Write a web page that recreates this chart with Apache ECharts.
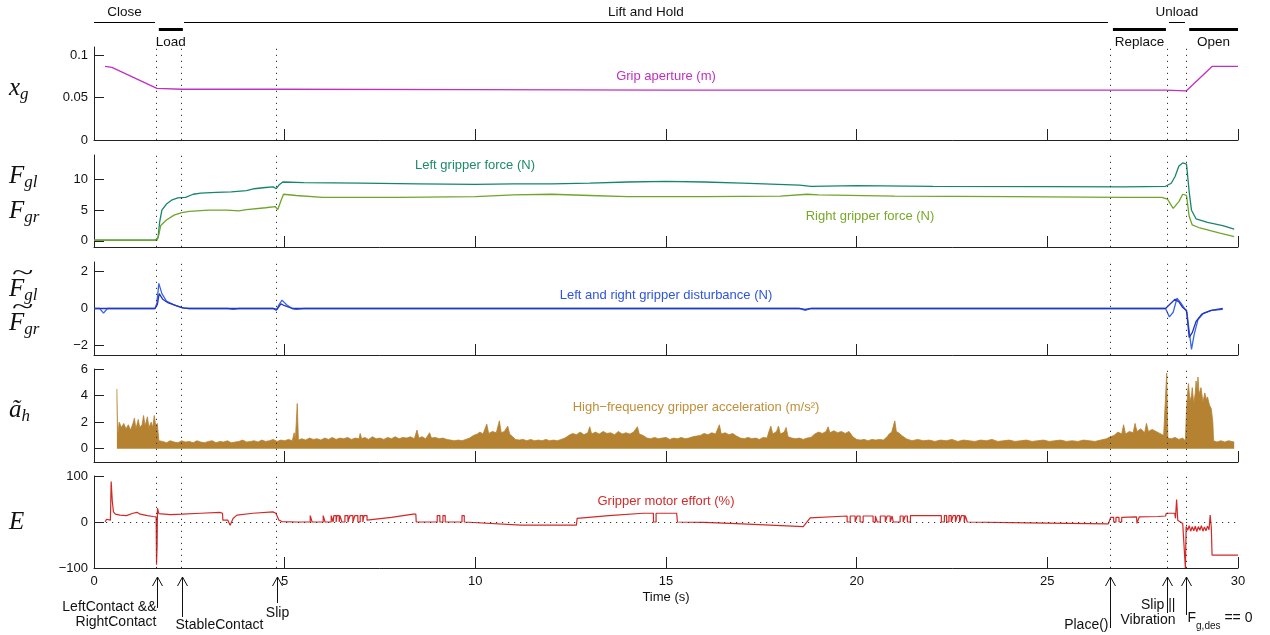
<!DOCTYPE html>
<html>
<head>
<meta charset="utf-8">
<script src="https://cdn.jsdelivr.net/npm/echarts@6.0.0/dist/echarts.min.js"></script>
<style>
  html, body { margin: 0; padding: 0; background: #fff; }
  #chart { width: 1270px; height: 635px; }
</style>
</head>
<body>
<div id="chart"></div>
<script>
// time axis (s)
const xTicks = [0, 5, 10, 15, 20, 25, 30];

// controller phases: name, start, end, row (0 = upper line, 1 = lower bar)
const phaseNames = ["Close", "Load", "Lift and Hold", "Replace", "Unload", "Open"];
const phaseStart = [0, 1.7, 2.36, 26.72, 28.19, 28.72];
const phaseEnd = [1.6, 2.33, 26.59, 28.11, 28.61, 30];
const phaseRow = [0, 1, 0, 1, 0, 1];

// events (s)
const eventTimes = [1.64, 2.3, 4.79, 26.64, 28.15, 28.64];
const eventLabels = [
    "LeftContact &&\nRightContact",
    "StableContact",
    "Slip",
    "Place()",
    "Slip ||\nVibration",
    "{m|F}{s|g,des}{m| == 0}"
];

// y axis ranges per panel
const yMin = [0, -1, -2.5, -1, -100];
const yMax = [0.11, 14, 2.5, 6, 100];
const yTicks = [[0, 0.05, 0.1], [0, 5, 10], [-2, 0, 2], [0, 2, 4, 6], [-100, 0, 100]];

// grip aperture (m)
const aperture = [[0.29, 0.087], [0.47, 0.086], [1.65, 0.061], [2.3, 0.060], [4.8, 0.060], [10, 0.0595],
    [15, 0.059], [20, 0.059], [26.6, 0.059], [28.1, 0.059], [28.64, 0.058], [29.32, 0.087], [30, 0.087]];

// gripper forces (N)
const forceLeft = [[0, 0.1], [1.0, 0.1], [1.6, 0.1], [1.68, 0.5], [1.72, 3.0], [1.78, 5.0], [1.9, 6.0], [2.05, 6.7],
    [2.2, 7.0], [2.4, 7.1], [2.6, 7.6], [2.8, 7.8], [3.2, 7.9], [3.6, 8.0], [4.0, 8.2], [4.2, 8.5], [4.5, 8.7],
    [4.7, 8.8], [4.78, 8.5], [4.85, 9.1], [4.95, 9.6], [5.5, 9.5], [7, 9.4], [8.5, 9.3], [10, 9.2], [11, 9.3],
    [12, 9.3], [13, 9.4], [14, 9.6], [15, 9.7], [16, 9.6], [17, 9.4], [18.5, 9.1], [18.8, 8.9], [20, 9.0],
    [22, 8.9], [25, 8.85], [27, 8.8], [28.1, 8.9], [28.25, 9.4], [28.35, 10.5], [28.45, 12.2], [28.55, 12.7],
    [28.65, 12.5], [28.72, 8.0], [28.78, 5.0], [28.9, 3.6], [29.2, 3.0], [29.6, 2.5], [29.9, 1.9]];
const forceRight = [[0, 0.1], [1.65, 0.1], [1.7, 1.0], [1.75, 2.5], [1.9, 3.4], [2.1, 4.2], [2.3, 4.6], [2.5, 4.8],
    [3.0, 5.0], [3.5, 5.0], [3.8, 4.9], [4.0, 5.1], [4.5, 5.4], [4.75, 5.6], [4.82, 5.1], [4.9, 6.5], [4.97, 7.6],
    [5.3, 7.4], [6, 7.1], [8, 7.1], [10, 7.2], [11, 7.5], [12, 7.6], [13, 7.4], [14, 7.2], [16, 7.2], [18, 7.3],
    [18.7, 7.6], [19, 7.5], [21, 7.3], [24, 7.2], [27, 7.1], [28.0, 7.1], [28.15, 6.8], [28.3, 5.3], [28.45, 6.4],
    [28.55, 7.6], [28.65, 7.4], [28.72, 4.0], [28.8, 2.6], [29, 2.1], [29.5, 1.3], [29.9, 0.7]];

// force disturbances (N)
const distLeft = [[0, 0], [0.15, 0], [0.25, -0.25], [0.35, 0], [1.6, 0], [1.65, 0.3], [1.7, 1.35], [1.78, 0.8],
    [1.9, 0.4], [2.1, 0.2], [2.3, 0.05], [2.5, 0], [3.5, 0], [3.65, -0.05], [3.8, 0], [4.7, 0], [4.78, -0.1],
    [4.85, 0.2], [4.93, 0.45], [5.05, 0.2], [5.2, 0], [5.3, -0.05], [5.5, 0], [18.5, 0], [18.65, -0.1], [18.8, 0],
    [28.1, 0], [28.15, -0.05], [28.2, -0.45], [28.3, -0.2], [28.4, 0.55], [28.5, 0.3], [28.6, 0.0], [28.66, -0.2],
    [28.72, -1.2], [28.78, -2.2], [28.85, -1.4], [28.95, -0.6], [29.1, -0.25], [29.3, -0.1], [29.6, -0.05]];
const distRight = [[0, 0], [0.2, 0], [0.25, -0.1], [0.35, 0], [1.6, 0], [1.66, 0.2], [1.71, 0.8], [1.8, 0.5],
    [1.95, 0.3], [2.15, 0.15], [2.35, 0.02], [2.5, 0], [4.7, 0], [4.8, -0.05], [4.9, 0.25], [5.0, 0.15], [5.2, 0],
    [18.5, 0], [18.65, -0.05], [18.8, 0], [28.1, 0], [28.2, 0.2], [28.35, 0.5], [28.45, 0.35], [28.55, 0.05],
    [28.65, -0.1], [28.72, -1.55], [28.8, -1.3], [28.9, -0.7], [29.05, -0.3], [29.3, -0.1], [29.6, 0]];

// high-frequency acceleration, upper envelope (m/s^2)
const accel = [[0.6, 4.5], [0.62, 1.0], [0.66, 2.0], [0.72, 1.6], [0.78, 1.9], [0.84, 1.5], [0.9, 1.8], [0.96, 1.4],
    [1.02, 1.9], [1.06, 2.3], [1.1, 1.5], [1.16, 2.2], [1.2, 1.6], [1.26, 1.8], [1.3, 2.5], [1.34, 1.7], [1.4, 2.4],
    [1.44, 1.6], [1.5, 2.0], [1.54, 1.6], [1.58, 2.5], [1.62, 1.7], [1.66, 1.9],
    [1.7, 0.6], [1.75, 0.45], [1.8, 0.55], [1.9, 0.45], [2.0, 0.6], [2.1, 0.5], [2.2, 0.45], [2.3, 0.6], [2.35, 0.7],
    [2.4, 0.5], [2.5, 0.55], [2.6, 0.45], [2.7, 0.6], [2.8, 0.5], [2.9, 0.45], [3.0, 0.55], [3.1, 0.6], [3.2, 0.45],
    [3.3, 0.55], [3.4, 0.5], [3.5, 0.6], [3.6, 0.45], [3.7, 0.5], [3.8, 0.55], [3.9, 0.65], [4.0, 0.5], [4.1, 0.55],
    [4.2, 0.6], [4.3, 0.5], [4.4, 0.65], [4.5, 0.55], [4.6, 0.6], [4.7, 0.7], [4.8, 0.55], [4.9, 0.65], [5.0, 0.6],
    [5.1, 0.7], [5.2, 0.6], [5.25, 1.2], [5.28, 0.65], [5.33, 3.4], [5.36, 0.65],
    [5.45, 0.75], [5.55, 0.65], [5.65, 0.8], [5.75, 0.7], [5.85, 0.75], [5.95, 0.65], [6.05, 0.8], [6.15, 0.7],
    [6.25, 0.85], [6.35, 0.7], [6.45, 0.8], [6.55, 0.75], [6.65, 0.85], [6.75, 0.7], [6.85, 0.8], [6.95, 0.75],
    [6.98, 1.15], [7.02, 0.75], [7.1, 0.85], [7.2, 0.7], [7.3, 0.9], [7.4, 0.75], [7.5, 0.8], [7.6, 0.7],
    [7.7, 0.85], [7.8, 0.75], [7.9, 0.9], [8.0, 0.75], [8.1, 0.85], [8.2, 0.8], [8.3, 0.9], [8.4, 0.75],
    [8.47, 1.4], [8.52, 0.8], [8.6, 0.9], [8.7, 0.75], [8.8, 1.2], [8.85, 0.8], [8.95, 0.85], [9.05, 0.75],
    [9.15, 0.8], [9.25, 0.7], [9.35, 0.65], [9.45, 0.6], [9.55, 0.65], [9.65, 0.6], [9.75, 0.7], [9.85, 0.8],
    [9.95, 1.0], [10.05, 1.1], [10.12, 1.25], [10.2, 1.1], [10.3, 1.85], [10.35, 1.15], [10.45, 1.3], [10.55, 1.2],
    [10.63, 2.1], [10.68, 1.2], [10.76, 1.3], [10.85, 1.7], [10.9, 1.1], [10.98, 0.9],
    [11.05, 0.7], [11.15, 0.65], [11.25, 0.7], [11.35, 0.6], [11.45, 0.7], [11.55, 0.6], [11.65, 0.65], [11.75, 0.6],
    [11.85, 0.7], [11.95, 0.6], [12.05, 0.65], [12.15, 0.6], [12.25, 0.7], [12.35, 0.8],
    [12.45, 1.0], [12.55, 1.15], [12.65, 1.05], [12.75, 1.25], [12.85, 1.05], [12.95, 1.2], [13.0, 1.65],
    [13.05, 1.1], [13.15, 1.25], [13.25, 1.1], [13.35, 1.3], [13.45, 1.15], [13.55, 1.2], [13.65, 1.05],
    [13.75, 1.3], [13.85, 1.1], [13.95, 1.2], [14.05, 1.1], [14.15, 1.25], [14.25, 1.65], [14.3, 1.1], [14.4, 1.0],
    [14.5, 0.8], [14.6, 0.75], [14.7, 0.85], [14.8, 0.75], [14.9, 0.8], [15.0, 0.85], [15.1, 0.7], [15.2, 0.8],
    [15.3, 0.75], [15.4, 0.85], [15.5, 0.75], [15.6, 0.8], [15.7, 0.9], [15.8, 0.95], [15.9, 1.0],
    [16.0, 1.15], [16.1, 1.05], [16.2, 1.2], [16.3, 1.1], [16.4, 1.8], [16.45, 1.1], [16.55, 1.2], [16.65, 1.05],
    [16.75, 1.15], [16.85, 0.95], [16.95, 0.8], [17.05, 0.75], [17.15, 0.85], [17.25, 0.75], [17.35, 0.8],
    [17.45, 0.7], [17.55, 0.85], [17.65, 0.8], [17.7, 1.3], [17.75, 1.7], [17.8, 1.1], [17.9, 1.3], [17.95, 1.7],
    [18.0, 1.1], [18.1, 1.25], [18.15, 1.6], [18.2, 0.9], [18.3, 0.8], [18.4, 0.75], [18.5, 0.8], [18.6, 0.7],
    [18.7, 0.8], [18.8, 0.85], [18.9, 1.1], [19.0, 1.25], [19.1, 1.15], [19.2, 1.3], [19.25, 1.65], [19.3, 1.2],
    [19.4, 1.35], [19.5, 1.2], [19.6, 1.3], [19.7, 1.15], [19.8, 1.3], [19.9, 0.9], [20.0, 0.7], [20.1, 0.65],
    [20.2, 0.7], [20.3, 0.6], [20.4, 0.7], [20.5, 0.65], [20.6, 0.7], [20.7, 0.65], [20.8, 0.9], [20.85, 1.1],
    [20.92, 1.25], [21.0, 2.1], [21.04, 1.3], [21.1, 1.2], [21.18, 1.0],
    [21.3, 0.75], [21.45, 0.6], [21.6, 0.7], [21.75, 0.6], [21.9, 0.65], [22.05, 0.55], [22.2, 0.65], [22.35, 0.6],
    [22.5, 0.7], [22.65, 0.55], [22.8, 0.65], [22.95, 0.6], [23.1, 0.55], [23.25, 0.65], [23.4, 0.6], [23.55, 0.7],
    [23.7, 0.55], [23.85, 0.6], [24.0, 0.65], [24.15, 0.55], [24.3, 0.6], [24.45, 0.65], [24.6, 0.55], [24.75, 0.6],
    [24.9, 0.65], [25.05, 0.55], [25.2, 0.6], [25.35, 0.65], [25.5, 0.55], [25.65, 0.6], [25.8, 0.55], [25.95, 0.65],
    [26.1, 0.6], [26.25, 0.55], [26.4, 0.65], [26.55, 0.75],
    [26.65, 0.9], [26.75, 1.0], [26.85, 1.25], [26.95, 1.1], [27.0, 1.8], [27.05, 1.1], [27.15, 1.3], [27.25, 1.2],
    [27.3, 1.9], [27.35, 1.3], [27.45, 1.5], [27.55, 1.2], [27.6, 1.9], [27.65, 1.3], [27.75, 1.45], [27.85, 1.3],
    [27.95, 1.15], [28.05, 1.0], [28.1, 1.1], [28.13, 5.7], [28.16, 0.8], [28.25, 0.75], [28.35, 0.85],
    [28.45, 0.7], [28.55, 0.8], [28.62, 0.6],
    [28.65, 3.0], [28.68, 4.2], [28.7, 4.9], [28.74, 3.6], [28.78, 4.0], [28.8, 4.6], [28.84, 3.4], [28.88, 4.2],
    [28.9, 5.1], [28.93, 4.4], [28.95, 5.4], [28.98, 4.1], [29.0, 4.0], [29.03, 4.6], [29.05, 4.5], [29.08, 3.5],
    [29.1, 3.6], [29.13, 4.2], [29.17, 3.7], [29.2, 3.9], [29.25, 3.3], [29.3, 3.0], [29.34, 2.0], [29.36, 0.6],
    [29.45, 0.5], [29.55, 0.6], [29.65, 0.5], [29.75, 0.6], [29.9, 0.5]];

// gripper motor effort (%)
const effort = [[0.29, 0], [0.33, 6], [0.37, 2], [0.43, 4], [0.45, 88], [0.48, 45], [0.51, 22], [0.56, 17],
    [0.68, 15], [0.85, 14], [1.02, 19], [1.13, 21], [1.21, 17], [1.4, 14], [1.55, 12], [1.63, 11], [1.64, -93],
    [1.655, -50], [1.665, 30], [1.7, 18], [1.73, 15], [2.0, 16], [2.31, 17], [2.8, 19], [3.3, 21], [3.37, 19],
    [3.38, 4], [3.51, 4], [3.57, -7], [3.65, 8], [3.75, 15], [4.17, 19], [4.69, 22], [4.77, 19], [4.85, 4],
    [4.93, 1], [5.3, 0],
    [5.67, 0], [5.67, 14], [5.72, 14], [5.72, 0], [6.01, 0], [6.01, 14], [6.06, 14], [6.06, 0],
    [6.22, 0], [6.22, 14], [6.27, 14], [6.27, 0], [6.29, 0], [6.29, 14], [6.35, 14], [6.35, 0],
    [6.37, 0], [6.37, 14], [6.43, 14], [6.43, 0], [6.45, 0], [6.45, 14], [6.5, 14], [6.5, 0],
    [6.58, 0], [6.58, 14], [6.66, 14], [6.66, 0], [6.71, 0], [6.71, 14], [6.79, 14], [6.79, 0],
    [6.84, 0], [6.84, 14], [6.92, 14], [6.92, 0], [6.98, 0], [6.98, 14], [7.05, 14], [7.05, 0],
    [7.08, 0], [7.08, 14], [7.16, 14], [7.16, 4], [7.8, 10], [8.37, 17], [8.44, 17], [8.45, 0],
    [9.0, 0], [9.0, 14], [9.07, 14], [9.07, 0], [9.15, 0], [9.15, 14], [9.21, 14], [9.21, 0],
    [9.65, 0], [9.65, 14], [9.71, 14], [9.71, 0], [11.2, -7], [12.65, -7], [12.67, 8], [13.5, 14], [14.4, 19],
    [14.67, 19], [14.67, 0], [14.74, 0], [14.74, 19], [15.28, 19], [15.3, 0], [16, -1], [17, -4], [18.6, -10],
    [18.65, -10], [18.78, 9], [19.75, 13],
    [19.75, 0], [19.83, 0], [19.83, 13], [19.96, 13], [19.96, 0], [20.01, 0], [20.01, 13], [20.09, 13],
    [20.09, 0], [20.17, 0], [20.17, 13], [20.43, 13], [20.43, 0], [20.49, 0], [20.49, 13], [20.54, 13],
    [20.54, 0], [20.62, 0], [20.62, 13], [20.75, 13], [20.75, 0], [20.8, 0], [20.8, 13], [20.88, 13],
    [20.88, 0], [20.93, 0], [20.93, 13], [20.96, 13], [20.96, 0], [21.14, 0], [21.14, 13], [21.22, 13],
    [21.22, 0], [21.27, 0], [21.27, 13], [21.33, 13], [21.33, 0], [21.41, 0], [21.41, 14], [22.22, 14],
    [22.22, 0], [22.3, 0], [22.3, 14], [22.36, 14], [22.36, 0], [22.42, 0], [22.42, 14], [22.48, 14],
    [22.48, 0], [22.53, 0], [22.53, 14], [22.59, 14], [22.59, 0], [22.64, 0], [22.64, 14], [22.7, 14],
    [22.7, 0], [22.75, 0], [22.75, 14], [22.82, 14], [22.82, 0], [22.85, 0], [22.85, 14], [22.9, 14],
    [22.9, 0], [24.5, -2], [26.6, -4],
    [26.64, -3], [26.66, 10], [26.74, 10], [26.74, 0], [26.8, 0], [26.8, 10], [26.88, 10], [26.88, 0],
    [26.95, 0], [26.95, 10], [27.34, 11], [27.35, -3], [27.4, -3], [27.41, 11], [27.9, 12], [28.1, 13],
    [28.12, 19], [28.34, 19], [28.36, 8], [28.39, 49], [28.42, 4], [28.55, -3], [28.6, -7], [28.62, -100],
    [28.64, -10], [28.68, -18], [28.72, -8], [28.76, -20], [28.8, -10], [28.84, -19], [28.88, -9], [28.92, -21],
    [28.96, -10], [29.0, -18], [29.04, -8], [29.08, -20], [29.12, -11], [29.16, -19], [29.2, -9], [29.24, -17],
    [29.27, 15], [29.3, -12], [29.32, -72], [30, -72]];

// layout
const panelTop = [47, 155, 262, 369, 476];
const panelHeight = [93, 92, 93, 93, 92];
const font = "Liberation Sans";
const mathFont = "Liberation Serif";

// arrow stem length, text anchor and offsets for each event note
const eventLayout = [
    { len: 31, anchor: "right", dx: -1, dy: 38 },
    { len: 40, anchor: "left", dx: -7, dy: 48 },
    { len: 26, anchor: "center", dx: 0, dy: 36 },
    { len: 51, anchor: "right", dx: -2, dy: 48 },
    { len: 36, anchor: "right", dx: 8, dy: 36 },
    { len: 38, anchor: "left", dx: 1, dy: 41 }
];

let chart = echarts.init(document.getElementById("chart"));

function eventMarks(extra) {
    let data = eventTimes.map(t => ({ xAxis: t }));
    return {
        symbol: "none",
        silent: true,
        label: { show: false },
        lineStyle: { color: "#333", type: [1.2, 4.8], width: 1 },
        data: data.concat(extra || [])
    };
}

function mathLabel(x, y, main, sub) {
    return {
        type: "text", x: x, y: y, silent: true,
        style: {
            text: "{m|" + main + "}{s|" + sub + "}",
            verticalAlign: "middle",
            rich: {
                m: { fontFamily: mathFont, fontStyle: "italic", fontSize: 25, lineHeight: 30, fill: "#111" },
                s: { fontFamily: mathFont, fontStyle: "italic", fontSize: 17, lineHeight: 12, verticalAlign: "bottom", fill: "#111" }
            }
        }
    };
}

function wideTilde(x, y) {
    return {
        type: "text", x: x, y: y, scaleX: 1.8, silent: true,
        style: { text: "~", font: "22px '" + mathFont + "'", fill: "#111", verticalAlign: "middle" }
    };
}

function note(text, x, y, color) {
    return {
        type: "text", x: x, y: y, silent: true,
        style: { text: text, fill: color, font: "13px '" + font + "'", align: "center", verticalAlign: "middle" }
    };
}

let option = {
    animation: false,
    backgroundColor: "#fff",
    grid: panelTop.map((t, i) => ({ left: 94, right: 32, top: t, height: panelHeight[i] })),
    xAxis: panelTop.map((t, i) => ({
        gridIndex: i,
        type: "value",
        min: 0,
        max: 30,
        axisLine: { show: true, onZero: false, lineStyle: { color: "#222", width: 1 } },
        axisTick: { show: true, inside: true, length: 11, customValues: xTicks, lineStyle: { color: "#222" } },
        axisLabel: { show: i === 4, customValues: xTicks, margin: 7, fontSize: 13, color: "#111", fontFamily: font },
        splitLine: { show: false },
        name: i === 4 ? "Time (s)" : "",
        nameLocation: "middle",
        nameGap: 23,
        nameTextStyle: { fontSize: 13, color: "#111", fontFamily: font }
    })),
    yAxis: panelTop.map((t, i) => ({
        gridIndex: i,
        type: "value",
        min: yMin[i],
        max: yMax[i],
        axisLine: { show: true, onZero: false, lineStyle: { color: "#222", width: 1 } },
        axisTick: { show: true, inside: true, length: 10, customValues: yTicks[i], lineStyle: { color: "#222" } },
        axisLabel: {
            customValues: yTicks[i], margin: 6, fontSize: 13, color: "#111", fontFamily: font,
            formatter: v => String(v).replace("-", "\u2212")
        },
        splitLine: { show: false }
    })),
    graphic: [
        mathLabel(9, 88, "x", "g"),
        mathLabel(9, 176, "F", "gl"),
        mathLabel(9, 211, "F", "gr"),
        wideTilde(12, 273),
        mathLabel(9, 289, "F", "gl"),
        wideTilde(12, 307),
        mathLabel(9, 323, "F", "gr"),
        mathLabel(9, 410, "\u00e3", "h"),
        mathLabel(9, 522, "E", ""),
        note("Grip aperture (m)", 666, 76, "#c030c0"),
        note("Left gripper force (N)", 475, 165, "#1e8a6a"),
        note("Right gripper force (N)", 870, 216, "#78a82a"),
        note("Left and right gripper disturbance (N)", 666, 295, "#2e55dc"),
        note("High\u2212frequency gripper acceleration (m/s\u00b2)", 696, 407, "#c08f3a"),
        note("Gripper motor effort (%)", 666, 501, "#d42a2a")
    ],
    series: [
        {
            name: "Grip aperture", type: "line", xAxisIndex: 0, yAxisIndex: 0,
            data: aperture, showSymbol: false, color: "#c030c0",
            lineStyle: { width: 1.3 },
            markLine: eventMarks()
        },
        {
            name: "Left force", type: "line", xAxisIndex: 1, yAxisIndex: 1,
            data: forceLeft, showSymbol: false, color: "#16866a",
            lineStyle: { width: 1.3 },
            markLine: eventMarks()
        },
        {
            name: "Right force", type: "line", xAxisIndex: 1, yAxisIndex: 1,
            data: forceRight, showSymbol: false, color: "#6fa52a",
            lineStyle: { width: 1.3 }
        },
        {
            name: "Left disturbance", type: "line", xAxisIndex: 2, yAxisIndex: 2,
            data: distLeft, showSymbol: false, color: "#3a66e6",
            lineStyle: { width: 1.3 },
            markLine: eventMarks()
        },
        {
            name: "Right disturbance", type: "line", xAxisIndex: 2, yAxisIndex: 2,
            data: distRight, showSymbol: false, color: "#2236c0",
            lineStyle: { width: 1.3 }
        },
        {
            name: "Acceleration", type: "line", xAxisIndex: 3, yAxisIndex: 3,
            data: accel, showSymbol: false, color: "#b58232", sampling: null,
            lineStyle: { width: 0.8 },
            areaStyle: { color: "#b58232", opacity: 1, origin: 0 },
            markLine: eventMarks()
        },
        {
            name: "Effort", type: "line", xAxisIndex: 4, yAxisIndex: 4,
            data: effort, showSymbol: false, color: "#d12828",
            lineStyle: { width: 1.2 },
            markLine: eventMarks([{ yAxis: 0 }]),
            z: 3
        },
        {
            name: "Phases", type: "custom", xAxisIndex: 0, yAxisIndex: 0, clip: false, silent: true,
            data: phaseStart.map((s, i) => [s, phaseEnd[i], phaseRow[i]]),
            encode: { x: [0, 1], y: 2 },
            renderItem: function (params, api) {
                let top = api.coord([0, yMax[0]])[1];
                let x0 = api.coord([api.value(0), yMax[0]])[0];
                let x1 = api.coord([api.value(1), yMax[0]])[0];
                let lower = api.value(2) === 1;
                let y = lower ? top - 17.5 : top - 24.5;
                return {
                    type: "group",
                    children: [
                        {
                            type: "line",
                            shape: { x1: x0, y1: y, x2: x1, y2: y },
                            style: { stroke: "#000", lineWidth: lower ? 3 : 1 }
                        },
                        {
                            type: "text",
                            style: {
                                text: phaseNames[params.dataIndex],
                                x: (x0 + x1) / 2, y: lower ? top - 5 : top - 35,
                                align: "center", verticalAlign: "middle",
                                fontSize: 13.5, fontFamily: font, fill: "#111"
                            }
                        }
                    ]
                };
            }
        },
        {
            name: "Events", type: "custom", xAxisIndex: 4, yAxisIndex: 4, clip: false, silent: true,
            data: eventTimes.map((t, i) => [t, i]),
            encode: { x: 0, y: 1 },
            renderItem: function (params, api) {
                let i = params.dataIndex;
                let lay = eventLayout[i];
                let p = api.coord([api.value(0), yMin[4]]);
                let x = Math.round(p[0]) + 0.5;
                let tip = p[1] + 9;
                return {
                    type: "group",
                    children: [
                        {
                            type: "line",
                            shape: { x1: x, y1: tip, x2: x, y2: tip + lay.len },
                            style: { stroke: "#111", lineWidth: 1 }
                        },
                        {
                            type: "polyline",
                            shape: { points: [[x - 5, tip + 9], [x, tip], [x + 5, tip + 9]] },
                            style: { stroke: "#111", lineWidth: 1, fill: null }
                        },
                        {
                            type: "text",
                            style: {
                                text: eventLabels[i],
                                x: x + lay.dx, y: tip + lay.dy,
                                align: lay.anchor, verticalAlign: "middle",
                                fontSize: 14, fontFamily: font, fill: "#111", lineHeight: 15,
                                rich: {
                                    m: { fontSize: 14, fontFamily: font, fill: "#111", lineHeight: 26 },
                                    s: { fontSize: 10, fontFamily: font, fill: "#111", lineHeight: 10, verticalAlign: "bottom" }
                                }
                            }
                        }
                    ]
                };
            }
        }
    ]
};

chart.setOption(option);
</script>
</body>
</html>
